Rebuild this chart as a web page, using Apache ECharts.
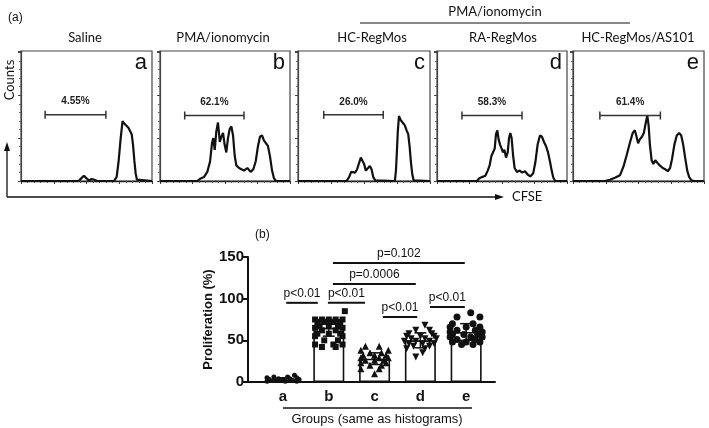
<!DOCTYPE html>
<html><head><meta charset="utf-8">
<script src="https://cdn.jsdelivr.net/npm/echarts@6/dist/echarts.min.js"></script>
<style>html,body{margin:0;padding:0;background:#fff}#c{width:709px;height:428px}</style>
</head><body><div id="c"></div>
<script>
// ---------- Histogram panels (a) ----------
const panelTitles = ['Saline', 'PMA/ionomycin', 'HC-RegMos', 'RA-RegMos', 'HC-RegMos/AS101'];
const panelLetters = ['a', 'b', 'c', 'd', 'e'];
const gateLabels = ['4.55%', '62.1%', '26.0%', '58.3%', '61.4%'];
// gate: [start, end, height]  (CFSE units 0-100, counts 0-100)
const gates = [[18.4, 64.8, 51], [19, 64.6, 50.4], [19.5, 64.6, 50.9], [19.2, 65.4, 50.4], [20.5, 66.7, 50.4]];

const histA = [[0,0],[44,0],[46,2],[48,4],[50,2],[52,0.5],[54,1.5],[56,1],[58,0],[71,0],[73,3],[74.5,15],[76,32],[77.5,46],[79,44],[80.5,43],[82,41],[83.5,40],[84.5,36],[85.5,28],[86.5,16],[87.5,6],[88.5,1],[89.5,0],[100,0]];
const histB = [[0,0],[28.7,0],[31.3,2],[33.8,3],[36.4,7],[38.5,15],[40,29],[41,33],[42.1,24],[43.3,38],[44.6,45],[46,30],[47.2,34],[48.5,37],[49.7,28],[51,22],[52.3,33],[53.6,40],[54.9,42],[56.2,35],[57.4,20],[58.7,12],[60.8,10],[62.6,9],[64.6,8],[67.2,10],[69.7,7],[71.8,9],[73.6,15],[75.4,27],[76.9,34],[78.5,35],[80,31],[81.5,30],[83,27],[84.6,19],[86.2,8],[87.7,2],[89.2,0],[100,0]];
const histC = [[0,0],[36.7,0],[38.7,3],[40.3,7],[41.8,6],[43.3,6.5],[44.8,9],[46.3,14],[47.6,18],[48.9,17],[50.1,13],[51.4,8],[52.9,7],[54.4,11.5],[55.7,9],[57,3],[58.5,0.5],[59.5,0],[73.4,0],[74.2,8],[74.9,22],[75.6,38],[76.5,50],[77.7,47],[79.2,45],[80.8,43],[82.3,39],[83.5,36],[84.6,26],[85.6,14],[86.6,5],[87.6,0.5],[88.6,0],[100,0]];
const histD = [[0,0],[30.8,0],[32.3,2],[34.6,3],[37.2,4],[39,8],[40.5,12],[41.8,19],[43.1,20],[44.4,25],[45.4,36],[46.4,39],[47.4,32],[48.5,28],[49.7,27],[50.8,22],[51.8,24],[53.1,18],[54.4,22],[55.4,33],[56.4,37],[57.4,33],[58.5,20],[59.7,10],[61.5,7],[63.6,8],[65.6,6.5],[67.7,7.5],[69.7,5],[71.8,3.5],[74,6],[75.6,14],[77.4,28],[79.2,35],[80.8,34],[82.3,30],[83.8,27],[85.4,22],[86.9,15],[88.2,8],[89.5,2.5],[91,0],[100,0]];
const histE = [[0,0],[24.4,0],[28.2,1],[32,2.5],[35.9,4.5],[38.5,11],[41,20],[43.6,30],[45.6,37],[47.2,39],[48.5,34],[49.7,29],[51,32],[52.6,34],[54.1,37],[55.4,44],[56.7,50.5],[57.7,43],[58.7,28],[60,16],[61.3,13],[62.8,16],[64.4,14],[66.2,12],[68.5,10],[70.5,9],[72.3,7.5],[74.1,10],[75.6,17],[77.4,28],[79.2,35],[81,37],[82.6,35],[84.1,28],[85.6,18],[87.2,8],[88.7,3],[90.5,0.5],[92.3,0],[100,0]];
const histograms = [histA, histB, histC, histD, histE];

// ---------- Bar chart (b) ----------
const categories = ['a', 'b', 'c', 'd', 'e'];
const means = [3, 65, 28, 50, 60];
const sds = [2, 10, 7, 9, 10];
// points: [horizontal jitter (category units), value]
const ptsA = [[0.25,8],[-0.2,6],[0.1,6],[-0.35,5],[0.3,5],[-0.1,4],[0.15,4],[-0.3,3],[0,3],[0.35,3],[-0.2,2],[0.2,2],[-0.35,1],[0.05,1],[0.3,1]];
const ptsB = [[0.35,85],[-0.3,75],[-0.15,75],[0,75],[0.15,75],[0.3,75],[-0.25,72],[-0.1,72],[0.1,72],[0.25,72],[-0.2,68],[0,68],[0.2,68],[-0.3,65],[0.3,65],[-0.15,62],[0.15,62],[-0.25,58],[0,58],[0.25,58],[-0.3,55],[0.3,55],[-0.1,50],[0.2,50],[-0.3,45],[0.1,45],[0.3,45],[-0.15,42],[0.15,42]];
const ptsC = [[-0.2,43],[0.1,43],[-0.3,38],[0.3,38],[-0.1,35],[0.15,35],[-0.25,32],[0,32],[0.25,32],[-0.3,29],[0.1,29],[0.3,29],[-0.2,26],[0,26],[0.2,26],[-0.3,23],[0.25,23],[-0.1,20],[0.15,20],[-0.3,16],[0.1,16],[0,10]];
const ptsD = [[0.1,68],[-0.1,62],[0.2,62],[-0.25,58],[0.25,58],[-0.3,55],[0,55],[0.3,55],[-0.2,52],[0.1,52],[0.35,52],[-0.35,49],[-0.1,49],[0.2,49],[-0.25,46],[0.05,46],[0.3,46],[-0.15,43],[0.2,43],[-0.3,40],[0.1,40],[0.05,35],[-0.1,30]];
const ptsE = [[0.1,83],[-0.2,78],[0.3,78],[-0.3,70],[0.15,70],[-0.35,66],[0,66],[0.3,66],[-0.2,62],[0.2,62],[-0.35,60],[0.35,60],[-0.3,57],[-0.05,57],[0.25,57],[-0.35,54],[0.1,54],[0.35,54],[-0.2,51],[0.2,51],[-0.3,48],[0,48],[0.3,48],[-0.1,45],[0.15,45]];
const groupPoints = [ptsA, ptsB, ptsC, ptsD, ptsE];

// significance brackets
const sigLabels = ['p<0.01', 'p<0.01', 'p<0.01', 'p<0.01', 'p=0.0006', 'p=0.102'];
const sigStart = [1.07, 1.98, 3.18, 4.21, 2.09, 2.09];
const sigEnd = [1.76, 2.79, 3.93, 4.97, 3.90, 4.97];
const sigLevel = [95, 95, 78, 90, 117.6, 142.8];

// ---------- layout ----------
const panelLeft = [21, 160, 298, 437, 573];
const panelWidth = [131, 130, 132, 130, 131];
const panelTop = 51, panelHeight = 130;
const titleX = [85, 223, 372, 503, 638];

const INK = '#111';
const TITLE_FONT = '13px Lato, "Open Sans", sans-serif';
const grids = [], xAxes = [], yAxes = [], series = [], graphics = [];

for (let i = 0; i < 5; i++) {
  grids.push({left: panelLeft[i], top: panelTop, width: panelWidth[i], height: panelHeight,
    show: true, borderColor: '#444', borderWidth: 1.2, backgroundColor: 'transparent'});
  xAxes.push({gridIndex: i, type: 'value', min: 0, max: 100, interval: 25,
    axisLine: {show: true, onZero: false, lineStyle: {color: '#222', width: 1.3}},
    axisTick: {show: true, length: 3, lineStyle: {color: '#333'}},
    minorTick: {show: true, splitNumber: 5, length: 2, lineStyle: {color: '#555'}},
    axisLabel: {show: false}, splitLine: {show: false}});
  yAxes.push({gridIndex: i, type: 'value', min: 0, max: 100, interval: 33,
    axisLine: {show: true, onZero: false, lineStyle: {color: '#444', width: 1.2}},
    axisTick: {show: true, length: 3, lineStyle: {color: '#444'}},
    minorTick: {show: true, splitNumber: 5, length: 2, lineStyle: {color: '#666'}},
    axisLabel: {show: false}, splitLine: {show: false}});
  series.push({type: 'line', xAxisIndex: i, yAxisIndex: i, data: histograms[i],
    showSymbol: false, symbol: 'none', smooth: false, z: 3,
    lineStyle: {color: INK, width: 2.2}});
  const lbl = gateLabels[i];
  series.push({type: 'custom', xAxisIndex: i, yAxisIndex: i, data: [gates[i]], z: 4,
    renderItem: function (params, api) {
      const p1 = api.coord([api.value(0), api.value(2)]);
      const p2 = api.coord([api.value(1), api.value(2)]);
      const st = {stroke: '#333', lineWidth: 1.5};
      return {type: 'group', children: [
        {type: 'line', shape: {x1: p1[0], y1: p1[1], x2: p2[0], y2: p2[1]}, style: st},
        {type: 'line', shape: {x1: p1[0], y1: p1[1] - 4, x2: p1[0], y2: p1[1] + 4}, style: st},
        {type: 'line', shape: {x1: p2[0], y1: p2[1] - 4, x2: p2[0], y2: p2[1] + 4}, style: st},
        {type: 'text', style: {text: lbl, x: (p1[0] + p2[0]) / 2, y: p1[1] - 8,
          align: 'center', verticalAlign: 'bottom', textAlign: 'center', textVerticalAlign: 'bottom',
          font: 'bold 10px "Liberation Sans", Arial', fill: '#222'}}
      ]};
    }});
  graphics.push({type: 'text', x: titleX[i], y: 38, style: {text: panelTitles[i],
    font: TITLE_FONT, fill: INK, align: 'center', verticalAlign: 'middle'}});
  graphics.push({type: 'text', x: panelLeft[i] + panelWidth[i] - 5, y: 52, style: {text: panelLetters[i],
    font: '22px "Liberation Sans", Arial', fill: INK, align: 'right', verticalAlign: 'top'}});
}

// bar chart grid
grids.push({left: 248, top: 257, width: 247, height: 125});
xAxes.push({gridIndex: 5, type: 'value', min: 0.235, max: 5.63, splitNumber: 5, minInterval: 1, maxInterval: 1,
  axisLine: {show: true, onZero: false, lineStyle: {color: INK, width: 2}},
  axisTick: {show: false}, splitLine: {show: false},
  showMinLabel: false, showMaxLabel: false,
  axisLabel: {margin: 7, color: INK, fontSize: 15, fontWeight: 'bold', fontFamily: '"Liberation Sans", Arial',
    formatter: function (v) { const k = Math.round(v); return Math.abs(v - k) < 1e-6 && k >= 1 && k <= 5 ? categories[k - 1] : ''; }}});
yAxes.push({gridIndex: 5, type: 'value', min: 0, max: 150, interval: 50,
  axisLine: {show: true, onZero: false, lineStyle: {color: INK, width: 2}},
  axisTick: {show: true, length: 5, lineStyle: {color: INK, width: 2}},
  splitLine: {show: false},
  axisLabel: {margin: 4, color: INK, fontSize: 15, fontWeight: 'bold', fontFamily: '"Liberation Sans", Arial'},
  name: 'Proliferation (%)', nameLocation: 'middle', nameGap: 32,
  nameTextStyle: {color: INK, fontSize: 13, fontWeight: 'bold', fontFamily: '"Liberation Sans", Arial'}});

series.push({type: 'bar', xAxisIndex: 5, yAxisIndex: 5, barWidth: 31, z: 2,
  data: categories.map((c, i) => [i + 1, means[i]]),
  itemStyle: {color: '#fff', borderColor: INK, borderWidth: 1.6}});

const symbols = ['circle', 'rect', 'triangle', 'triangle', 'circle'];
const symSizes = [5, 6, 7, 7, 7];
const symRot = [0, 0, 0, 180, 0];
for (let i = 0; i < 5; i++) {
  series.push({type: 'scatter', xAxisIndex: 5, yAxisIndex: 5, z: 3,
    symbol: symbols[i], symbolSize: symSizes[i], symbolRotate: symRot[i],
    itemStyle: {color: INK, opacity: 1},
    data: groupPoints[i].map(p => [i + 1 + p[0], p[1]])});
}

series.push({type: 'custom', xAxisIndex: 5, yAxisIndex: 5, z: 5,
  data: categories.map((c, i) => [i + 1, means[i], sds[i]]),
  renderItem: function (params, api) {
    const x = api.value(0), m = api.value(1), s = api.value(2);
    const top = api.coord([x, m + s]), bot = api.coord([x, Math.max(0, m - s)]);
    const st = {stroke: INK, lineWidth: 1.5};
    return {type: 'group', children: [
      {type: 'line', shape: {x1: top[0], y1: top[1], x2: bot[0], y2: bot[1]}, style: st},
      {type: 'line', shape: {x1: top[0] - 6, y1: top[1], x2: top[0] + 6, y2: top[1]}, style: st},
      {type: 'line', shape: {x1: bot[0] - 6, y1: bot[1], x2: bot[0] + 6, y2: bot[1]}, style: st}
    ]};
  }});

series.push({type: 'custom', xAxisIndex: 5, yAxisIndex: 5, z: 5, clip: false,
  data: sigLabels.map((t, i) => [sigStart[i], sigEnd[i], sigLevel[i], i]),
  renderItem: function (params, api) {
    const p1 = api.coord([api.value(0), api.value(2)]);
    const p2 = api.coord([api.value(1), api.value(2)]);
    const idx = api.value(3);
    return {type: 'group', children: [
      {type: 'line', shape: {x1: p1[0], y1: p1[1], x2: p2[0], y2: p2[1]}, style: {stroke: INK, lineWidth: 2}},
      {type: 'text', style: {text: sigLabels[idx], x: (p1[0] + p2[0]) / 2, y: p1[1] - 3,
        align: 'center', verticalAlign: 'bottom', textAlign: 'center', textVerticalAlign: 'bottom',
        font: '12px "Liberation Sans", Arial', fill: INK}}
    ]};
  }});

// decorations
graphics.push(
  {type: 'text', x: 8, y: 18, style: {text: '(a)', font: '12px "Liberation Sans", Arial', fill: INK, verticalAlign: 'middle'}},
  {type: 'text', x: 495, y: 12, style: {text: 'PMA/ionomycin', font: TITLE_FONT, fill: INK, align: 'center', verticalAlign: 'middle'}},
  {type: 'line', shape: {x1: 360, y1: 23, x2: 630, y2: 23}, style: {stroke: INK, lineWidth: 1}},
  {type: 'text', x: 10, y: 80, rotation: Math.PI / 2, style: {text: 'Counts', font: TITLE_FONT, fill: INK, align: 'center', verticalAlign: 'middle'}},
  {type: 'line', shape: {x1: 7, y1: 197, x2: 7, y2: 148}, style: {stroke: INK, lineWidth: 1.3}},
  {type: 'polygon', shape: {points: [[7, 142], [4, 151], [10, 151]]}, style: {fill: INK}},
  {type: 'line', shape: {x1: 7, y1: 197, x2: 497, y2: 197}, style: {stroke: INK, lineWidth: 1.3}},
  {type: 'polygon', shape: {points: [[504, 197], [495, 194], [495, 200]]}, style: {fill: INK}},
  {type: 'text', x: 512, y: 197, style: {text: 'CFSE', font: TITLE_FONT, fill: INK, verticalAlign: 'middle'}},
  {type: 'text', x: 255, y: 235, style: {text: '(b)', font: '12px "Liberation Sans", Arial', fill: INK, verticalAlign: 'middle'}},
  {type: 'line', shape: {x1: 283, y1: 408, x2: 472, y2: 408}, style: {stroke: INK, lineWidth: 1.5}},
  {type: 'text', x: 377, y: 419, style: {text: 'Groups (same as histograms)', font: '13px "Liberation Sans", Arial', fill: INK, align: 'center', verticalAlign: 'middle'}}
);

const chart = echarts.init(document.getElementById('c'), null, {renderer: 'canvas'});
chart.setOption({
  animation: false,
  backgroundColor: '#fff',
  grid: grids, xAxis: xAxes, yAxis: yAxes, series: series, graphic: graphics
});
</script></body></html>
